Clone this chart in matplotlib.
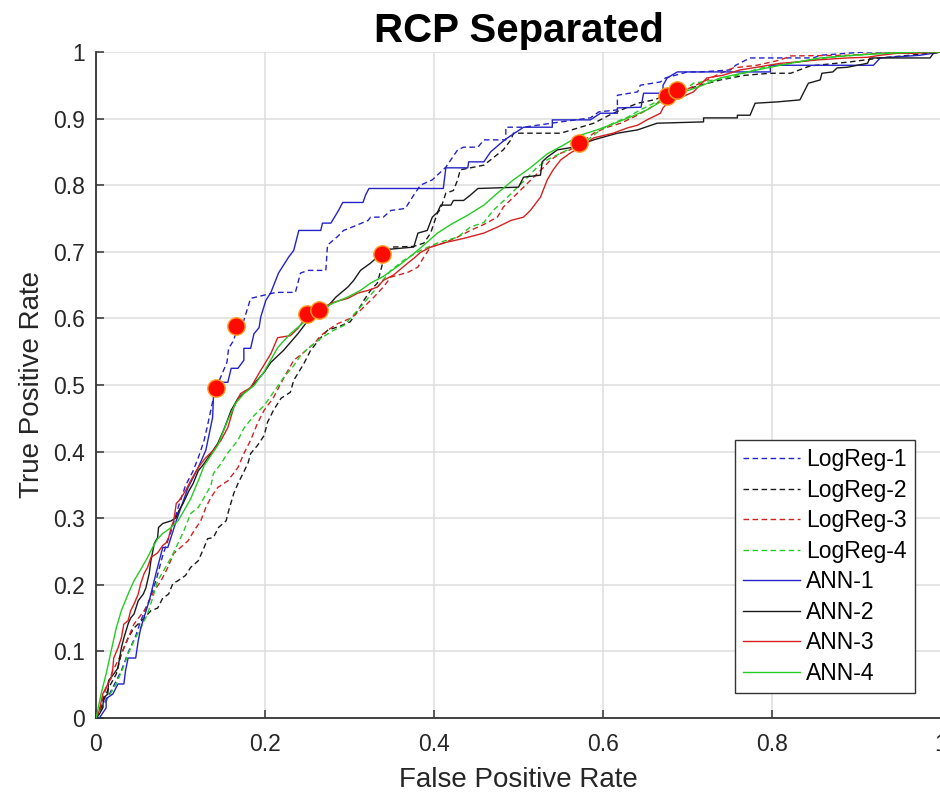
import matplotlib
matplotlib.use("Agg")
import matplotlib.pyplot as plt
from matplotlib.ticker import FuncFormatter

plt.rcParams['font.family'] = ['Liberation Sans', 'DejaVu Sans']

# ---- ROC curves (FPR, TPR) ----
logreg1_fpr = [0, 0.006, 0.012, 0.018, 0.024, 0.030, 0.039, 0.047, 0.053, 0.063, 0.071, 0.079, 0.089, 0.098,
               0.106, 0.115, 0.122, 0.128, 0.132, 0.137, 0.141, 0.148, 0.155, 0.157, 0.163, 0.167, 0.175, 0.183,
               0.213, 0.236, 0.242, 0.251, 0.272, 0.274, 0.286, 0.293, 0.305, 0.322, 0.325, 0.340, 0.349, 0.366,
               0.376, 0.384, 0.398, 0.414, 0.428, 0.435, 0.452, 0.459, 0.485, 0.485, 0.506, 0.550, 0.585, 0.595,
               0.617, 0.617, 0.641, 0.644, 0.668, 0.674, 0.700, 0.715, 0.751, 0.757, 0.774, 0.849, 0.857, 0.910, 1.0]
logreg1_tpr = [0, 0.018, 0.026, 0.041, 0.056, 0.071, 0.101, 0.123, 0.146, 0.176, 0.206, 0.244, 0.281, 0.319,
               0.349, 0.371, 0.394, 0.417, 0.439, 0.469, 0.492, 0.513, 0.534, 0.555, 0.567, 0.586, 0.597, 0.630,
               0.639, 0.639, 0.668, 0.672, 0.672, 0.710, 0.723, 0.732, 0.738, 0.747, 0.752, 0.752, 0.762, 0.765,
               0.785, 0.800, 0.808, 0.827, 0.853, 0.857, 0.857, 0.868, 0.868, 0.887, 0.887, 0.895, 0.901, 0.910,
               0.913, 0.935, 0.940, 0.950, 0.955, 0.961, 0.970, 0.970, 0.973, 0.980, 0.991, 0.991, 0.995, 1.0, 1.0]

logreg2_fpr = [0, 0.004, 0.009, 0.015, 0.024, 0.030, 0.038, 0.045, 0.057, 0.065, 0.073, 0.079, 0.086, 0.091,
               0.097, 0.106, 0.112, 0.121, 0.128, 0.132, 0.139, 0.145, 0.154, 0.157, 0.163, 0.168, 0.174, 0.180,
               0.183, 0.191, 0.199, 0.203, 0.210, 0.219, 0.230, 0.234, 0.246, 0.254, 0.266, 0.274, 0.290, 0.301,
               0.310, 0.317, 0.325, 0.333, 0.337, 0.340, 0.349, 0.376, 0.388, 0.396, 0.400, 0.404, 0.408, 0.414,
               0.423, 0.428, 0.431, 0.459, 0.467, 0.482, 0.491, 0.494, 0.550, 0.589, 0.612, 0.641, 0.660, 0.683,
               0.715, 0.739, 0.768, 0.798, 0.822, 0.845, 0.892, 0.928, 0.963, 1.0]
logreg2_tpr = [0, 0.006, 0.026, 0.045, 0.066, 0.096, 0.120, 0.135, 0.150, 0.161, 0.165, 0.180, 0.186, 0.202,
               0.206, 0.214, 0.226, 0.236, 0.256, 0.269, 0.271, 0.286, 0.296, 0.311, 0.337, 0.352, 0.367, 0.383,
               0.397, 0.409, 0.424, 0.444, 0.462, 0.480, 0.489, 0.507, 0.532, 0.552, 0.571, 0.582, 0.589, 0.595,
               0.612, 0.627, 0.642, 0.653, 0.672, 0.687, 0.707, 0.708, 0.713, 0.728, 0.743, 0.758, 0.765, 0.788,
               0.792, 0.808, 0.823, 0.830, 0.838, 0.853, 0.868, 0.878, 0.878, 0.893, 0.908, 0.923, 0.928, 0.938,
               0.950, 0.958, 0.965, 0.968, 0.968, 0.979, 0.985, 0.991, 0.995, 1.0]

logreg3_fpr = [0, 0.004, 0.012, 0.020, 0.030, 0.038, 0.045, 0.057, 0.069, 0.077, 0.085, 0.092, 0.100, 0.109,
               0.116, 0.124, 0.130, 0.136, 0.144, 0.156, 0.168, 0.175, 0.183, 0.191, 0.199, 0.210, 0.222, 0.234,
               0.246, 0.258, 0.266, 0.274, 0.286, 0.301, 0.313, 0.329, 0.340, 0.349, 0.369, 0.381, 0.388, 0.396,
               0.411, 0.428, 0.443, 0.459, 0.475, 0.482, 0.494, 0.506, 0.518, 0.530, 0.538, 0.550, 0.561, 0.573,
               0.589, 0.605, 0.621, 0.636, 0.652, 0.664, 0.676, 0.703, 0.723, 0.739, 0.754, 0.782, 0.810, 0.822,
               0.889, 0.928, 1.0]
logreg3_tpr = [0, 0.011, 0.045, 0.071, 0.096, 0.120, 0.141, 0.161, 0.191, 0.206, 0.226, 0.247, 0.256, 0.266,
               0.281, 0.296, 0.316, 0.331, 0.346, 0.356, 0.376, 0.397, 0.417, 0.442, 0.462, 0.481, 0.510, 0.537,
               0.549, 0.562, 0.574, 0.582, 0.592, 0.600, 0.612, 0.632, 0.647, 0.662, 0.669, 0.677, 0.692, 0.707,
               0.713, 0.722, 0.732, 0.741, 0.752, 0.767, 0.782, 0.797, 0.812, 0.827, 0.838, 0.848, 0.853, 0.863,
               0.878, 0.887, 0.893, 0.902, 0.913, 0.923, 0.934, 0.946, 0.958, 0.968, 0.976, 0.980, 0.988, 0.994,
               0.995, 0.998, 1.0]

logreg4_fpr = [0, 0.004, 0.014, 0.024, 0.032, 0.038, 0.045, 0.053, 0.061, 0.067, 0.073, 0.080, 0.089, 0.097,
               0.104, 0.112, 0.121, 0.128, 0.136, 0.139, 0.148, 0.156, 0.168, 0.175, 0.187, 0.199, 0.210, 0.222,
               0.234, 0.242, 0.251, 0.266, 0.281, 0.293, 0.301, 0.317, 0.333, 0.349, 0.364, 0.384, 0.404, 0.428,
               0.443, 0.459, 0.470, 0.487, 0.499, 0.511, 0.522, 0.534, 0.550, 0.565, 0.582, 0.597, 0.612, 0.629,
               0.644, 0.660, 0.676, 0.691, 0.707, 0.751, 0.790, 0.869, 0.928, 1.0]
logreg4_tpr = [0, 0.006, 0.030, 0.051, 0.075, 0.096, 0.116, 0.135, 0.156, 0.180, 0.206, 0.221, 0.241, 0.262,
               0.281, 0.307, 0.316, 0.331, 0.349, 0.367, 0.382, 0.398, 0.417, 0.435, 0.454, 0.469, 0.489, 0.511,
               0.529, 0.544, 0.555, 0.570, 0.582, 0.589, 0.600, 0.623, 0.647, 0.672, 0.687, 0.702, 0.713, 0.722,
               0.737, 0.744, 0.762, 0.782, 0.797, 0.812, 0.827, 0.838, 0.848, 0.857, 0.868, 0.883, 0.893, 0.902,
               0.913, 0.923, 0.931, 0.938, 0.953, 0.962, 0.977, 0.992, 0.998, 1.0]

ann1_fpr = [0, 0.004, 0.012, 0.012, 0.020, 0.026, 0.033, 0.035, 0.038, 0.047, 0.050, 0.053, 0.063, 0.071,
            0.079, 0.085, 0.095, 0.109, 0.121, 0.130, 0.138, 0.139, 0.144, 0.156, 0.160, 0.168, 0.175, 0.175,
            0.183, 0.187, 0.193, 0.195, 0.201, 0.207, 0.216, 0.228, 0.234, 0.240, 0.266, 0.268, 0.278, 0.287,
            0.292, 0.316, 0.319, 0.323, 0.411, 0.414, 0.440, 0.441, 0.459, 0.467, 0.479, 0.487, 0.506, 0.540,
            0.540, 0.585, 0.597, 0.617, 0.617, 0.645, 0.648, 0.671, 0.671, 0.676, 0.688, 0.798, 0.798, 0.920,
            0.928, 0.975, 1.0]
ann1_tpr = [0, 0, 0.015, 0.029, 0.036, 0.051, 0.051, 0.071, 0.090, 0.090, 0.116, 0.135, 0.176, 0.217,
            0.256, 0.256, 0.296, 0.346, 0.376, 0.402, 0.451, 0.481, 0.504, 0.504, 0.525, 0.525, 0.537, 0.555,
            0.555, 0.577, 0.586, 0.602, 0.627, 0.639, 0.668, 0.692, 0.702, 0.732, 0.732, 0.743, 0.743, 0.762,
            0.774, 0.774, 0.785, 0.795, 0.795, 0.826, 0.826, 0.835, 0.835, 0.850, 0.863, 0.871, 0.887, 0.887,
            0.898, 0.898, 0.908, 0.908, 0.916, 0.917, 0.938, 0.938, 0.950, 0.961, 0.970, 0.970, 0.980, 0.980,
            0.991, 0.995, 1.0]

ann2_fpr = [0, 0.004, 0.008, 0.009, 0.014, 0.015, 0.021, 0.026, 0.030, 0.033, 0.038, 0.041, 0.045, 0.050,
            0.056, 0.059, 0.063, 0.065, 0.069, 0.073, 0.074, 0.079, 0.089, 0.095, 0.098, 0.103, 0.110, 0.115,
            0.121, 0.128, 0.136, 0.144, 0.151, 0.160, 0.168, 0.183, 0.199, 0.207, 0.222, 0.239, 0.251, 0.270,
            0.284, 0.298, 0.305, 0.313, 0.325, 0.333, 0.349, 0.376, 0.381, 0.392, 0.398, 0.404, 0.408, 0.420,
            0.423, 0.435, 0.443, 0.452, 0.500, 0.506, 0.526, 0.528, 0.534, 0.546, 0.565, 0.589, 0.600, 0.617,
            0.641, 0.664, 0.719, 0.719, 0.759, 0.759, 0.774, 0.780, 0.806, 0.833, 0.837, 0.843, 0.857, 0.859,
            0.872, 0.877, 0.889, 0.913, 0.916, 0.987, 0.991, 1.0]
ann2_tpr = [0, 0.006, 0.015, 0.030, 0.036, 0.056, 0.066, 0.075, 0.105, 0.120, 0.141, 0.150, 0.156, 0.176,
            0.186, 0.195, 0.217, 0.236, 0.262, 0.271, 0.286, 0.292, 0.296, 0.301, 0.311, 0.322, 0.341, 0.352,
            0.371, 0.382, 0.397, 0.412, 0.432, 0.462, 0.480, 0.496, 0.519, 0.534, 0.552, 0.577, 0.597, 0.612,
            0.632, 0.647, 0.657, 0.672, 0.683, 0.692, 0.704, 0.707, 0.728, 0.732, 0.752, 0.759, 0.770, 0.770,
            0.777, 0.777, 0.785, 0.795, 0.797, 0.812, 0.815, 0.835, 0.842, 0.853, 0.857, 0.868, 0.872, 0.878,
            0.883, 0.893, 0.895, 0.901, 0.901, 0.905, 0.905, 0.923, 0.925, 0.928, 0.938, 0.953, 0.958, 0.968,
            0.970, 0.976, 0.977, 0.983, 0.991, 0.991, 0.998, 1.0]

ann3_fpr = [0, 0.004, 0.008, 0.014, 0.018, 0.020, 0.021, 0.026, 0.030, 0.033, 0.038, 0.041, 0.045, 0.050,
            0.053, 0.057, 0.061, 0.065, 0.073, 0.079, 0.083, 0.086, 0.089, 0.092, 0.095, 0.098, 0.106, 0.112,
            0.121, 0.130, 0.139, 0.148, 0.156, 0.163, 0.171, 0.183, 0.195, 0.207, 0.215, 0.230, 0.239, 0.251,
            0.266, 0.281, 0.298, 0.310, 0.322, 0.333, 0.340, 0.352, 0.369, 0.376, 0.384, 0.396, 0.414, 0.435,
            0.459, 0.475, 0.491, 0.506, 0.514, 0.526, 0.534, 0.541, 0.550, 0.561, 0.573, 0.589, 0.612, 0.629,
            0.641, 0.652, 0.668, 0.671, 0.676, 0.691, 0.707, 0.723, 0.742, 0.762, 0.782, 0.810, 0.830, 0.853,
            0.889, 0.913, 0.928, 0.948, 0.967, 1.0]
ann3_tpr = [0, 0.011, 0.036, 0.051, 0.060, 0.075, 0.090, 0.105, 0.120, 0.141, 0.146, 0.161, 0.171, 0.186,
            0.202, 0.217, 0.226, 0.241, 0.248, 0.259, 0.263, 0.271, 0.286, 0.296, 0.322, 0.326, 0.341, 0.356,
            0.376, 0.391, 0.402, 0.417, 0.436, 0.466, 0.487, 0.496, 0.522, 0.547, 0.571, 0.574, 0.585, 0.606,
            0.615, 0.624, 0.630, 0.638, 0.642, 0.647, 0.657, 0.665, 0.683, 0.690, 0.699, 0.707, 0.714, 0.720,
            0.728, 0.737, 0.747, 0.752, 0.762, 0.782, 0.808, 0.823, 0.838, 0.848, 0.857, 0.871, 0.878, 0.886,
            0.890, 0.898, 0.908, 0.916, 0.923, 0.931, 0.940, 0.961, 0.965, 0.973, 0.977, 0.983, 0.985, 0.988,
            0.991, 0.992, 0.995, 0.998, 0.998, 1.0]

ann4_fpr = [0, 0.002, 0.006, 0.012, 0.018, 0.024, 0.030, 0.038, 0.045, 0.053, 0.061, 0.067, 0.073, 0.079,
            0.089, 0.097, 0.104, 0.112, 0.121, 0.128, 0.144, 0.156, 0.165, 0.175, 0.187, 0.199, 0.215, 0.230,
            0.246, 0.254, 0.264, 0.281, 0.298, 0.313, 0.325, 0.340, 0.357, 0.372, 0.388, 0.404, 0.420, 0.440,
            0.459, 0.475, 0.494, 0.514, 0.534, 0.553, 0.573, 0.593, 0.612, 0.632, 0.652, 0.668, 0.691, 0.712,
            0.739, 0.771, 0.798, 0.830, 0.857, 0.896, 0.936, 0.975, 1.0]
ann4_tpr = [0, 0.011, 0.036, 0.066, 0.101, 0.135, 0.161, 0.186, 0.206, 0.223, 0.241, 0.256, 0.269, 0.277,
            0.286, 0.296, 0.311, 0.329, 0.356, 0.379, 0.409, 0.447, 0.472, 0.487, 0.499, 0.520, 0.556, 0.577,
            0.594, 0.602, 0.612, 0.623, 0.632, 0.642, 0.653, 0.663, 0.678, 0.693, 0.710, 0.728, 0.741, 0.755,
            0.770, 0.788, 0.808, 0.826, 0.847, 0.860, 0.875, 0.883, 0.892, 0.902, 0.913, 0.925, 0.938, 0.947,
            0.961, 0.970, 0.977, 0.985, 0.991, 0.995, 0.998, 1.0, 1.0]

# operating points (red dots)
point_fpr = [0.142, 0.166, 0.250, 0.264, 0.339, 0.572, 0.676, 0.688]
point_tpr = [0.495, 0.588, 0.607, 0.613, 0.697, 0.864, 0.934, 0.943]

labels = ["LogReg-1", "LogReg-2", "LogReg-3", "LogReg-4", "ANN-1", "ANN-2", "ANN-3", "ANN-4"]
colors = ["#2323c8", "#1a1a1a", "#d42020", "#24cc24"]

curves = [
    (logreg1_fpr, logreg1_tpr), (logreg2_fpr, logreg2_tpr),
    (logreg3_fpr, logreg3_tpr), (logreg4_fpr, logreg4_tpr),
    (ann1_fpr, ann1_tpr), (ann2_fpr, ann2_tpr),
    (ann3_fpr, ann3_tpr), (ann4_fpr, ann4_tpr),
]

# ---- Figure ----
fig = plt.figure(figsize=(9.4, 7.98), dpi=100)
ax = fig.add_axes([0.1021, 0.1003, 0.899, 0.8346])

for i, (fpr, tpr) in enumerate(curves):
    style = (0, (4, 2.5)) if i < 4 else '-'
    ax.plot(fpr, tpr, color=colors[i % 4], linestyle=style, linewidth=1.0,
            label=labels[i], zorder=3)

ax.plot(point_fpr, point_tpr, linestyle='none', marker='o', markersize=12.5,
        markerfacecolor='#ff0a00', markeredgecolor='#ffa020', markeredgewidth=1.0, zorder=5)

ax.set_xlim(0, 1)
ax.set_ylim(0, 1)
ax.set_xticks([0, 0.2, 0.4, 0.6, 0.8, 1])
ax.set_yticks([0, 0.1, 0.2, 0.3, 0.4, 0.5, 0.6, 0.7, 0.8, 0.9, 1])
fmt = FuncFormatter(lambda v, p: f"{v:g}")
ax.xaxis.set_major_formatter(fmt)
ax.yaxis.set_major_formatter(fmt)

ax.grid(True, color='#dedede', linewidth=1.1)
ax.set_axisbelow(True)
for side in ['top', 'right']:
    ax.spines[side].set_visible(False)
for side in ['left', 'bottom']:
    ax.spines[side].set_color('#333333')
    ax.spines[side].set_linewidth(1.3)

ax.tick_params(axis='both', direction='in', length=6, width=1.1, color='#333333',
               labelsize=16.5, labelcolor='#262626')
ax.tick_params(axis='x', pad=11)
ax.tick_params(axis='y', pad=8)

ax.set_xlabel("False Positive Rate", fontsize=20, color='#262626', labelpad=8)
ax.set_ylabel("True Positive Rate", fontsize=20, color='#262626', labelpad=6)
ax.set_title("RCP Separated", fontsize=29, fontweight='bold', pad=7)

leg = ax.legend(loc='lower right', bbox_to_anchor=(0.969, 0.0376), borderaxespad=0,
                fontsize=16.5, handlelength=2.5, handletextpad=0.25, labelspacing=0.33,
                fancybox=False, framealpha=1, edgecolor='#333333', borderpad=0.35)
leg.get_frame().set_linewidth(1.0)

fig.savefig("out.png", dpi=100)
